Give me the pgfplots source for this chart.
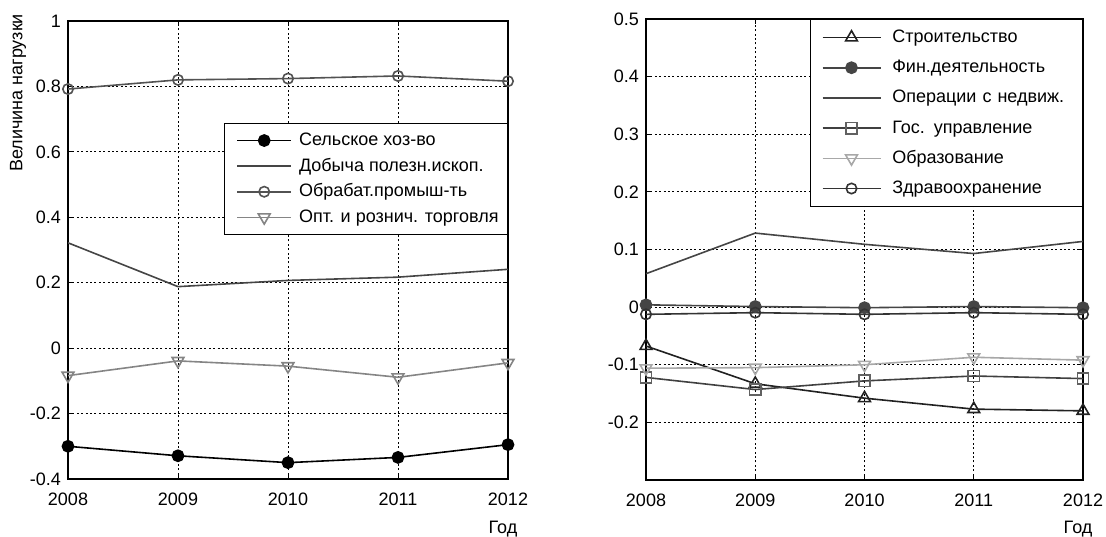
\documentclass[border=0pt]{standalone}
\usepackage{fontspec}
\setmainfont{Liberation Sans}
\usepackage{pgfplots}
\pgfplotsset{compat=1.18}

\definecolor{c1}{gray}{0.0}
\definecolor{c2}{gray}{0.27}
\definecolor{c3}{gray}{0.32}
\definecolor{c4}{gray}{0.52}
\definecolor{r1}{gray}{0.13}
\definecolor{r2}{gray}{0.27}
\definecolor{r3}{gray}{0.27}
\definecolor{r4}{gray}{0.25}
\definecolor{r4m}{gray}{0.38}
\definecolor{r5}{gray}{0.66}
\definecolor{r6}{gray}{0.2}

\pgfplotsset{
  matlab/.style={
    scale only axis,
    anchor=south west,
    xmin=2008, xmax=2012,
    xtick={2008,2009,2010,2011,2012},
    /pgf/number format/1000 sep={},
    /pgf/number format/assume math mode=true,
    font=\fontsize{9}{11}\selectfont,
    tick label style={font=\fontsize{9}{11}\selectfont},
    xticklabel style={yshift=-3.5pt},
    tick align=inside,
    major tick length=2.5pt,
    axis line style={line width=0.6pt},
    every tick/.style={black, line width=0.4pt},
    grid=major,
    major grid style={black, line width=0.4pt, dash pattern=on 1pt off 1.2pt},
    every axis plot/.append style={line width=0.8pt},
    legend cell align=left,
    legend style={
      anchor=north east, draw=black, line width=0.5pt, fill=white,
      font=\fontsize{9}{11}\selectfont,
      nodes={inner sep=0pt, text height=7pt, text depth=2pt},
    },
  },
}

\begin{document}
\begin{tikzpicture}
\path[use as bounding box] (0,0) rectangle (553pt,268pt);

\begin{axis}[
  matlab,
  at={(34pt,28.5pt)},
  width=220pt, height=229pt,
  ymin=-0.4, ymax=1,
  ytick={-0.4,-0.2,0,0.2,0.4,0.6,0.8,1},
  ylabel={Величина нагрузки},
  ylabel style={at={(axis description cs:-0.1136,0.843)}, anchor=center},
  xlabel={Год},
  xlabel style={at={(axis description cs:0.9886,0)}, anchor=center, yshift=-25pt},
  legend style={at={(1,0.777)}, inner xsep=4.5pt, inner ysep=3.95pt, row sep=3.8pt,
    column sep=3.5pt},
  legend image code/.code={\path (-1.4pt,0pt);
    \draw[line width=0.8pt,mark repeat=2,mark phase=2,#1] plot coordinates {(0pt,0pt) (13.5pt,0pt) (27pt,0pt)};},
]
\addplot[color=c1, mark=*, mark size=2.8pt, mark options={fill=c1}]
coordinates {(2008,-0.300) (2009,-0.329) (2010,-0.350) (2011,-0.334) (2012,-0.295)};
\addlegendentry{Сельское хоз-во}
\addplot[color=c2]
coordinates {(2008,0.322) (2009,0.188) (2010,0.207) (2011,0.217) (2012,0.241)};
\addlegendentry{Добыча полезн.ископ.}
\addplot[color=c3, mark=o, mark size=2.6pt]
coordinates {(2008,0.792) (2009,0.820) (2010,0.824) (2011,0.832) (2012,0.816)};
\addlegendentry{Обрабат.промыш-ть}
\addplot[color=c4, mark=triangle, mark size=3.4pt, mark options={rotate=180}]
coordinates {(2008,-0.084) (2009,-0.039) (2010,-0.055) (2011,-0.089) (2012,-0.045)};
\addlegendentry{Опт. и рознич. торговля}
\end{axis}

\begin{axis}[
  matlab,
  at={(323pt,28pt)},
  width=218.5pt, height=230.5pt,
  ymin=-0.3, ymax=0.5,
  ytick={-0.2,-0.1,0,0.1,0.2,0.3,0.4,0.5},
  xlabel={Год},
  xlabel style={at={(axis description cs:0.9886,0)}, anchor=center, yshift=-24.5pt},
  legend style={at={(1,1)}, inner xsep=5.5pt, inner ysep=4.5pt, row sep=6.1pt,
    column sep=5.5pt,
    /tikz/every even column/.append style={text width=89.6pt, align=left}},
  legend image code/.code={\draw[line width=0.8pt,mark repeat=2,mark phase=2,#1] plot coordinates {(0pt,0pt) (14.5pt,0pt) (29pt,0pt)};},
]
\addplot[color=r1, mark=triangle, mark size=3.4pt]
coordinates {(2008,-0.0675) (2009,-0.133) (2010,-0.158) (2011,-0.177) (2012,-0.180)};
\addlegendentry{Строительство}
\addplot[color=r2, mark=*, mark size=2.8pt, mark options={fill=r2}]
coordinates {(2008,0.004) (2009,0.001) (2010,-0.001) (2011,0.001) (2012,-0.001)};
\addlegendentry{Фин.деятельность}
\addplot[color=r3]
coordinates {(2008,0.058) (2009,0.1285) (2010,0.109) (2011,0.093) (2012,0.114)};
\addlegendentry{Операции с недвиж.}
\addplot[color=r4, mark=square, mark size=2.8pt, mark options={draw=r4m}]
coordinates {(2008,-0.122) (2009,-0.143) (2010,-0.128) (2011,-0.1195) (2012,-0.124)};
\addlegendentry{Гос. управление}
\addplot[color=r5, mark=triangle, mark size=3.4pt, mark options={rotate=180}]
coordinates {(2008,-0.106) (2009,-0.105) (2010,-0.100) (2011,-0.087) (2012,-0.092)};
\addlegendentry{Образование}
\addplot[color=r6, mark=o, mark size=2.6pt]
coordinates {(2008,-0.0125) (2009,-0.0096) (2010,-0.0125) (2011,-0.0096) (2012,-0.0125)};
\addlegendentry{Здравоохранение}
\end{axis}
\end{tikzpicture}
\end{document}
